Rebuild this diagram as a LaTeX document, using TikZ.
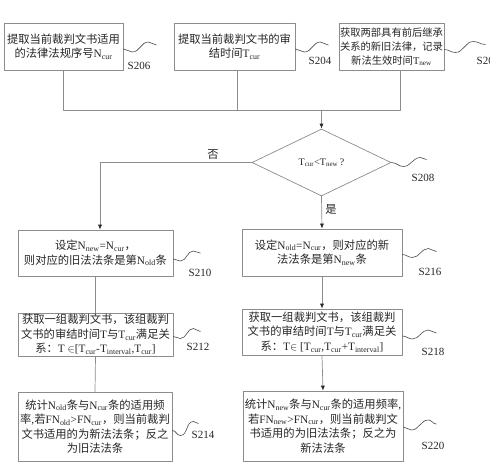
\documentclass[tikz,border=0pt]{standalone}
\usepackage{fontspec}
\setmainfont{Noto Sans CJK SC}
\newfontfamily\lat{Liberation Serif}
\usetikzlibrary{shapes.geometric,arrows.meta}
\newcommand\sN[1]{{\lat N\textsubscript{#1}}}
\newcommand\sT[1]{{\lat T\textsubscript{#1}}}

\begin{document}
\begin{tikzpicture}[x=1pt,y=-1pt,line cap=round,line join=round,
  font=\fontsize{11.3}{14.5}\selectfont,text=black!85,
  box/.style={draw=black!45,line width=0.7pt,inner sep=0pt,align=center},
  dia/.style={diamond,draw=black!45,line width=0.7pt,inner sep=0pt,
    minimum width=139pt,minimum height=67pt},
  ln/.style={draw=black!45,line width=0.7pt},
  arr/.style={ln,-{Latex[length=5pt,width=4pt,color=black!85]}},
  wav/.style={draw=black!70,line width=0.6pt},
  wv/.style={out=0,in=180},
  tag/.style={font=\lat\fontsize{11}{13}\selectfont}]
  \useasboundingbox (0,0) rectangle (490,466);
  \fill[white] (0,0) rectangle (490,466);

  \node[box,minimum width=119pt,minimum height=47pt] (b206) at (63.5,46.5)
    {提取当前裁判文书适用\\的法律法规序号\sN{cur}};
  \node[box,minimum width=121pt,minimum height=47pt] (b204) at (234.5,46.5)
    {提取当前裁判文书的审\\结时间\sT{cur}};
  \node[box,minimum width=105pt,minimum height=47pt,
    font=\fontsize{10.3}{14}\selectfont] (b202) at (391.5,46.5)
    {获取两部具有前后继承\\关系的新旧法律，记录\\新法生效时间\sT{new}};

  \node[dia] (dia) at (321.5,162.5) {\lat\fontsize{10}{12}\selectfont T\textsubscript{cur}<T\textsubscript{new}\,?};

  \node[box,minimum width=155pt,minimum height=46pt] (b210) at (95.5,253)
    {设定\sN{new}{\lat =}\sN{cur}，\\则对应的旧法法条是第\sN{old}条};
  \node[box,minimum width=155pt,minimum height=43pt] (b212) at (95.5,334.5)
    {获取一组裁判文书，该组裁判\\文书的审结时间{\lat T}与\sT{cur}满足关\\系：{\lat T $\in$[T\textsubscript{cur}-T\textsubscript{interval},T\textsubscript{cur}]}};
  \node[box,minimum width=154pt,minimum height=69pt] (b214) at (95,426.5)
    {统计\sN{old}条与\sN{cur}条的适用频\\率{\lat ,}若{\lat FN\textsubscript{old}>FN\textsubscript{cur}}，则当前裁判\\文书适用的为新法法条；反之\\为旧法法条};

  \node[box,minimum width=160pt,minimum height=47pt] (b216) at (322,252.5)
    {设定\sN{old}{\lat =}\sN{cur}，则对应的新\\法法条是第\sN{new}条};
  \node[box,minimum width=160pt,minimum height=46pt] (b218) at (322,332)
    {获取一组裁判文书，该组裁判\\文书的审结时间{\lat T}与\sT{cur}满足关\\系：{\lat T$\in$ [T\textsubscript{cur},T\textsubscript{cur}+T\textsubscript{interval}]}};
  \node[box,minimum width=160pt,minimum height=70pt] (b220) at (323,426)
    {统计\sN{new}条与\sN{cur}条的适用频率{\lat ,}\\若{\lat FN\textsubscript{new}>FN\textsubscript{cur}}，则当前裁判文\\书适用的为旧法法条；反之为\\新法法条};

  \coordinate (j206) at (63.5,110);
  \coordinate (j204) at (237,110);
  \coordinate (j202) at (400,110);
  \coordinate (jn) at (321.5,110);
  \coordinate (jno) at (100,162.5);

  \draw[ln] (b206.south) -- (j206) -- (j202) -- (j202 |- b202.south);
  \draw[ln] (j204 |- b204.south) -- (j204);
  \draw[arr] (jn) -- (dia.north);
  \draw[arr] (dia.west) -- (jno) -- (jno |- b210.north);
  \draw[arr] (dia.south) -- (b216.north);
  \draw[ln] (b210.south) -- (b212.north);
  \draw[ln] (b212.south) -- (b214.north);
  \draw[arr] (b216.south) -- (b218.north);
  \draw[arr] (b218.south) -- (b220.north);

  \node (no) at (213,155) {否};
  \node (yes) at (331,209) {是};

  \draw[wav] (b206.east) ++(0,2.5) to[wv] ++(9,3) to[wv] ++(16,-10) to[wv] ++(8,3);
  \draw[wav] (b204.east) ++(0,2.5) to[wv] ++(9,3) to[wv] ++(16,-10) to[wv] ++(8,3);
  \draw[wav] (b202.east) ++(0,3) to[wv] ++(11,3) to[wv] ++(18,-11) to[wv] ++(12,3);
  \draw[wav] (dia.east) to[wv] ++(12,4) to[wv] ++(17,-9) to[wv] ++(6,2);
  \draw[wav] (b210.east) ++(0,6) to[wv] ++(7,2) to[wv] ++(13,-10) to[wv] ++(7,2);
  \draw[wav] (b212.east) ++(0,2) to[wv] ++(7,2) to[wv] ++(13,-10) to[wv] ++(7,3);
  \draw[wav] (b214.east) ++(0,4) to[wv] ++(8,5) to[wv] ++(13,-14) to[wv] ++(5,2);
  \draw[wav] (b216.east) ++(0,2) to[wv] ++(10,3) to[wv] ++(16,-9) to[wv] ++(8,3);
  \draw[wav] (b218.east) ++(0,4) to[wv] ++(10,3) to[wv] ++(16,-9) to[wv] ++(8,3);
  \draw[wav] (b220.east) ++(0,1) to[wv] ++(8,3) to[wv] ++(17,-10) to[wv] ++(8,4);

  \node[tag] (l206) at (139,66) {S206};
  \node[tag] (l204) at (320,61) {S204};
  \node[tag] (l202) at (488,61) {S202};
  \node[tag] (l208) at (423,178) {S208};
  \node[tag] (l210) at (200,273) {S210};
  \node[tag] (l212) at (198,347) {S212};
  \node[tag] (l214) at (203,435) {S214};
  \node[tag] (l216) at (430,272) {S216};
  \node[tag] (l218) at (433,352) {S218};
  \node[tag] (l220) at (433,446) {S220};
\end{tikzpicture}
\end{document}
